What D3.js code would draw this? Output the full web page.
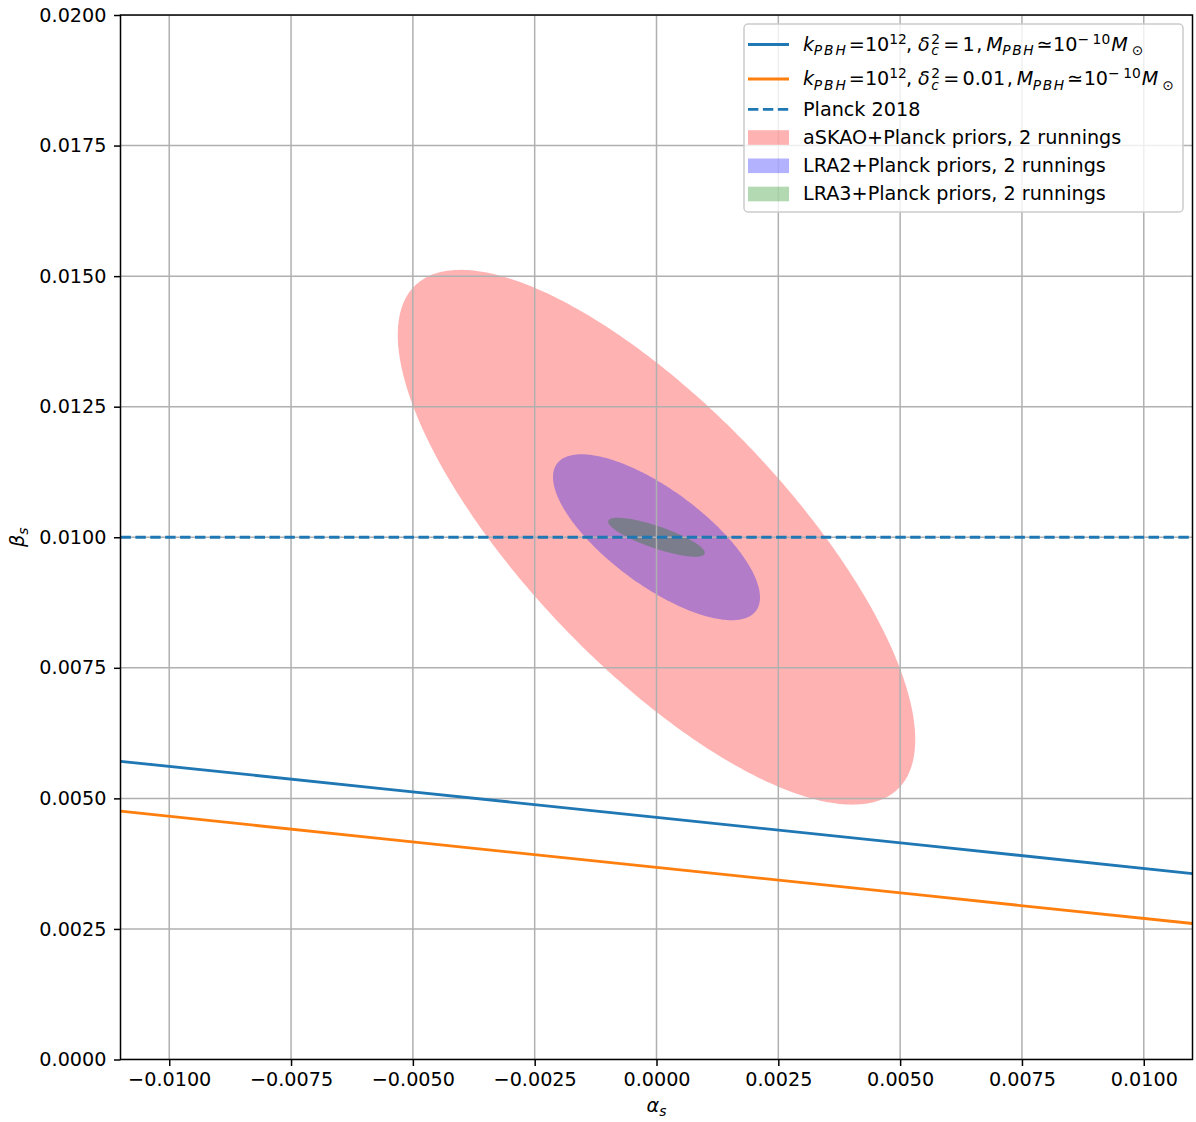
<!DOCTYPE html>
<html>
<head>
<meta charset="utf-8">
<script src="https://cdn.jsdelivr.net/npm/d3@7"></script>
<style>
  html, body { margin: 0; padding: 0; background: #fff; }
  svg { display: block; }
  text { font-family: "DejaVu Sans", sans-serif; white-space: pre; }
</style>
</head>
<body>
<svg id="chart" width="1196" height="1122"></svg>
<script>
// Axis ticks
const xTicks = [-0.01, -0.0075, -0.005, -0.0025, 0, 0.0025, 0.005, 0.0075, 0.01];
const yTicks = [0, 0.0025, 0.005, 0.0075, 0.01, 0.0125, 0.015, 0.0175, 0.02];

// PBH constraint lines, beta_s as a function of alpha_s
const alphaGrid = [-0.011, -0.0055, 0, 0.0055, 0.011];
const betaDelta1 = [0.00571, 0.005174, 0.004636, 0.004099, 0.003561];
const betaDelta001 = [0.004754, 0.004216, 0.003679, 0.003141, 0.002604];

// Planck 2018 reference value
const planckBeta = 0.01;

// Forecast contours: centre, half-extent along each axis and correlation
const ellipseNames = ["aSKAO+Planck priors, 2 runnings", "LRA2+Planck priors, 2 runnings", "LRA3+Planck priors, 2 runnings"];
const ellipseColors = ["#ff0000", "#0000ff", "#008000"];
const ellipseAlpha0 = [0, 0, 0];
const ellipseBeta0 = [0.01, 0.01, 0.01];
const ellipseHalfAlpha = [0.00531, 0.002124, 0.000991];
const ellipseHalfBeta = [0.00512, 0.001589, 0.000373];
const ellipseCorr = [-0.757, -0.725, -0.8];

const FS = 19.2;
const svg = d3.select("#chart");
const pLeft = 120.5, pRight = 1192.5, pTop = 15, pBottom = 1059.5;

const x = d3.scaleLinear().domain([-0.011, 0.011]).range([pLeft, pRight]);
const y = d3.scaleLinear().domain([0, 0.02]).range([pBottom, pTop]);

svg.append("defs").append("clipPath").attr("id", "plotClip")
  .append("rect").attr("x", pLeft).attr("y", pTop)
  .attr("width", pRight - pLeft).attr("height", pBottom - pTop);

const plot = svg.append("g").attr("clip-path", "url(#plotClip)");

// Ellipses
function ellipsePoints(i) {
  const pts = [];
  const r = ellipseCorr[i], s = Math.sqrt(1 - r * r);
  for (let k = 0; k <= 360; k++) {
    const t = k * Math.PI / 180;
    pts.push([
      ellipseAlpha0[i] + ellipseHalfAlpha[i] * Math.cos(t),
      ellipseBeta0[i] + ellipseHalfBeta[i] * (r * Math.cos(t) + s * Math.sin(t))
    ]);
  }
  return pts;
}
const ellLine = d3.line().x(d => x(d[0])).y(d => y(d[1]));
ellipseNames.forEach((n, i) => {
  plot.append("path")
    .attr("d", ellLine(ellipsePoints(i)) + "Z")
    .attr("fill", ellipseColors[i])
    .attr("fill-opacity", 0.3)
    .attr("stroke", "none");
});

// Grid
const grid = plot.append("g").attr("stroke", "#b0b0b0").attr("stroke-width", 1.5);
xTicks.forEach(v => grid.append("line").attr("x1", x(v)).attr("x2", x(v)).attr("y1", pTop).attr("y2", pBottom));
yTicks.forEach(v => grid.append("line").attr("y1", y(v)).attr("y2", y(v)).attr("x1", pLeft).attr("x2", pRight));

// Lines
const lineGen = d3.line().x((d, i) => x(alphaGrid[i])).y(d => y(d));
plot.append("path").attr("d", lineGen(betaDelta1)).attr("fill", "none")
  .attr("stroke", "#1f77b4").attr("stroke-width", 2.8);
plot.append("path").attr("d", lineGen(betaDelta001)).attr("fill", "none")
  .attr("stroke", "#ff7f0e").attr("stroke-width", 2.8);
plot.append("line").attr("x1", pLeft).attr("x2", pRight)
  .attr("y1", y(planckBeta)).attr("y2", y(planckBeta))
  .attr("stroke", "#1f77b4").attr("stroke-width", 2.8)
  .attr("stroke-dasharray", "10.4,4.5");

// Axes
const fmt = d3.format(".4f");
const xAxis = svg.append("g").attr("transform", `translate(0,${pBottom})`)
  .call(d3.axisBottom(x).tickValues(xTicks).tickFormat(fmt).tickSize(6.5).tickPadding(6.5));
const yAxis = svg.append("g").attr("transform", `translate(${pLeft},0)`)
  .call(d3.axisLeft(y).tickValues(yTicks).tickFormat(fmt).tickSize(6.5).tickPadding(7.5));
[xAxis, yAxis].forEach(a => {
  a.selectAll("text").attr("font-size", FS).attr("font-family", "DejaVu Sans").attr("fill", "#000");
  a.selectAll("line").attr("stroke", "#000").attr("stroke-width", 1.5);
  a.select(".domain").remove();
});

// Frame
svg.append("rect").attr("x", pLeft).attr("y", pTop)
  .attr("width", pRight - pLeft).attr("height", pBottom - pTop)
  .attr("fill", "none").attr("stroke", "#000").attr("stroke-width", 1.5);

// Small math-text layout: pieces flow left to right, scripts are shifted and shrunk
const SCRIPT = 0.72, SUP = -0.36, SUB = 0.23;
function mathText(g, x0, y0, pieces, fs) {
  let cx = x0;
  function add(txt, italic, level, px, ls) {
    const size = level === "base" ? fs : fs * SCRIPT;
    const dy = level === "sup" ? SUP * fs : level === "sub" ? SUB * fs : 0;
    const t = g.append("text").attr("x", px).attr("y", y0 + dy)
      .attr("font-size", size)
      .attr("font-style", italic ? "italic" : "normal")
      .attr("fill", "#000")
      .text(txt);
    const w = t.node().getComputedTextLength();
    if (ls) {
      t.attr("letter-spacing", ls);
      return w + ls * (txt.length - 1);
    }
    return w;
  }
  pieces.forEach(p => {
    cx += p.g || 0;
    if (p.stack) {
      // symbol with stacked superscript and subscript, kept in one text element
      const t = g.append("text").attr("x", cx).attr("y", y0)
        .attr("font-size", fs).attr("fill", "#000");
      const base = t.append("tspan").attr("font-style", "italic").text(p.t);
      const bw = base.node().getComputedTextLength();
      const sx = cx + bw + p.sg;
      t.append("tspan").attr("x", sx).attr("y", y0 + SUP * fs)
        .attr("font-size", fs * SCRIPT).text(p.sup);
      t.append("tspan").attr("x", sx).attr("y", y0 + SUB * fs)
        .attr("font-size", fs * SCRIPT).attr("font-style", "italic").text(p.sub);
      cx = sx + p.w;
    } else {
      cx += add(p.t, p.it, p.lv || "base", cx, p.ls);
    }
  });
  return cx - x0;
}

// Legend
const lg = svg.append("g");
const lx = 744, ly = 24, lw = 439, lh = 188;
lg.append("rect").attr("x", lx).attr("y", ly).attr("width", lw).attr("height", lh)
  .attr("rx", 4).attr("fill", "#fff").attr("fill-opacity", 0.8)
  .attr("stroke", "#cccccc").attr("stroke-width", 1.5);

const rowY = [44.5, 79, 109.3, 137.5, 165.8, 194];
const hx0 = 748, hx1 = 789, tx = 803;

lg.append("line").attr("x1", hx0).attr("x2", hx1).attr("y1", rowY[0]).attr("y2", rowY[0])
  .attr("stroke", "#1f77b4").attr("stroke-width", 2.8);
lg.append("line").attr("x1", hx0).attr("x2", hx1).attr("y1", rowY[1]).attr("y2", rowY[1])
  .attr("stroke", "#ff7f0e").attr("stroke-width", 2.8);
lg.append("line").attr("x1", hx0).attr("x2", hx1).attr("y1", rowY[2]).attr("y2", rowY[2])
  .attr("stroke", "#1f77b4").attr("stroke-width", 2.8).attr("stroke-dasharray", "10.4,4.5");

const baseOff = 6.2;
function pbhPieces(dc) {
  return [
    { t: "k", it: true },
    { t: "PBH", it: true, lv: "sub", ls: 2, g: -0.5 },
    { t: "=", it: false, g: 3 },
    { t: "10", it: false },
    { t: "12", it: false, lv: "sup", g: 0 },
    { t: ", ", it: false, g: -1 },
    { stack: true, t: "δ", sup: "2", sub: "c", sg: 1.5, w: 11 },
    { t: "=", it: false, g: 1 },
    { t: dc, it: false, g: 3 },
    { t: ",", it: false, g: 1.5 },
    { t: "M", it: true, g: 4 },
    { t: "PBH", it: true, lv: "sub", ls: 1.5, g: -0.5 },
    { t: "≃", it: false, g: 3 },
    { t: "10", it: false, g: 0.5 },
    { t: "−", it: false, lv: "sup", g: 0 },
    { t: "10", it: false, lv: "sup", g: 3.5 },
    { t: "M", it: true, g: 1 },
    { t: "⊙", it: false, lv: "sub", g: 4 }
  ];
}
mathText(lg, tx, rowY[0] + baseOff, pbhPieces("1"), FS);
mathText(lg, tx, rowY[1] + baseOff, pbhPieces("0.01"), FS);
lg.append("text").attr("x", tx).attr("y", rowY[2] + baseOff).attr("font-size", FS).text("Planck 2018");

ellipseNames.forEach((n, i) => {
  const ry = rowY[3 + i];
  lg.append("rect").attr("x", hx0).attr("y", ry - 7.3).attr("width", hx1 - hx0).attr("height", 14.6)
    .attr("fill", ellipseColors[i]).attr("fill-opacity", 0.3);
  lg.append("text").attr("x", tx).attr("y", ry + baseOff).attr("font-size", FS).text(n);
});

// Axis labels
const xl = svg.append("g");
const wx = mathText(xl, 0, 1112, [{ t: "α", it: true }, { t: "s", it: true, lv: "sub" }], FS);
xl.attr("transform", `translate(${(pLeft + pRight) / 2 - wx / 2},0)`);

const yl = svg.append("g");
const wy = mathText(yl, 0, 0, [{ t: "β", it: true }, { t: "s", it: true, lv: "sub" }], FS);
yl.attr("transform", `translate(24,${(pTop + pBottom) / 2 + wy / 2}) rotate(-90)`);
</script>
</body>
</html>
